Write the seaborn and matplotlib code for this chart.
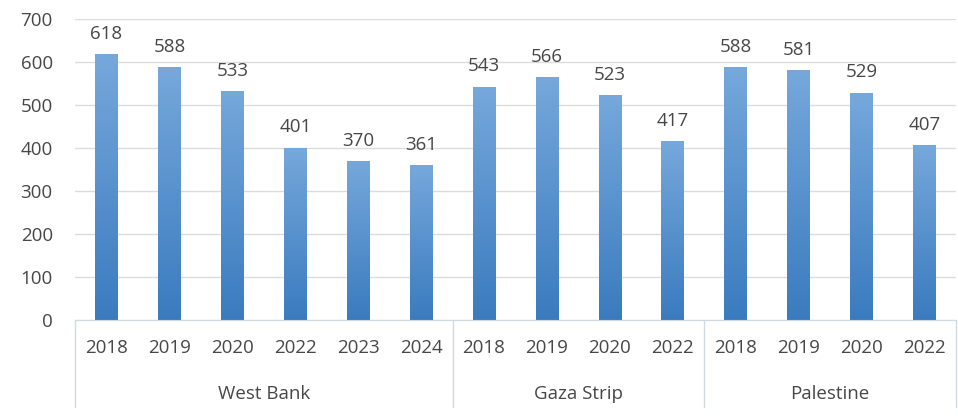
import numpy as np
import pandas as pd
import matplotlib
matplotlib.use("Agg")
import matplotlib.pyplot as plt
import matplotlib.transforms as mtransforms
import seaborn as sns

regions = ["West Bank", "Gaza Strip", "Palestine"]
years_west_bank = ["2018", "2019", "2020", "2022", "2023", "2024"]
values_west_bank = [618, 588, 533, 401, 370, 361]
years_gaza = ["2018", "2019", "2020", "2022"]
values_gaza = [543, 566, 523, 417]
years_palestine = ["2018", "2019", "2020", "2022"]
values_palestine = [588, 581, 529, 407]

rows = []
for region, years, values in zip(regions,
                                 [years_west_bank, years_gaza, years_palestine],
                                 [values_west_bank, values_gaza, values_palestine]):
    for y, v in zip(years, values):
        rows.append({"region": region, "year": y, "value": v, "key": f"{region} {y}"})
df = pd.DataFrame(rows)

sns.set_style("white")
plt.rcParams["font.family"] = ["Open Sans", "DejaVu Sans"]
text_color = "#474747"
fs = 13.5

fig = plt.figure(figsize=(9.58, 4.2), dpi=100)
ax = fig.add_axes([75 / 958, 1 - 320 / 420, (956 - 75) / 958, (320 - 19) / 420])

sns.barplot(data=df, x="key", y="value", color="#4a89cc", width=0.36, ax=ax,
            order=df["key"].tolist())

# gradient fill on each bar
grad = np.linspace(0, 1, 256).reshape(-1, 1)
cmap = matplotlib.colors.LinearSegmentedColormap.from_list("g", ["#3a7bbf", "#76a8db"])
for p in ax.patches:
    x0, w, h = p.get_x(), p.get_width(), p.get_height()
    im = ax.imshow(grad, extent=[x0, x0 + w, 0, h], origin="lower", cmap=cmap,
                   aspect="auto", zorder=p.get_zorder())
    im.set_clip_path(p)
    p.set_facecolor("none")
    p.set_edgecolor("none")
    ax.annotate(f"{int(h)}", (x0 + w / 2, h), xytext=(0, 8), textcoords="offset points",
                ha="center", va="bottom", fontsize=fs, color=text_color)

ax.set_xlim(-0.5, len(df) - 0.5)
ax.set_ylim(0, 700)
ax.set_yticks(range(0, 701, 100))
ax.yaxis.grid(True, color="#dcdcdc", linewidth=1)
ax.set_axisbelow(True)
ax.set_xticks(range(len(df)))
ax.set_xticklabels(df["year"], fontsize=fs, color=text_color)
ax.tick_params(axis="y", labelsize=fs, labelcolor=text_color, length=0, pad=16)
ax.tick_params(axis="x", length=0, pad=14)
ax.set_xlabel("")
ax.set_ylabel("")
sns.despine(ax=ax, left=True, top=True, right=True)
ax.spines["bottom"].set_color("#d0d8e4")

# group labels and separators
trans = mtransforms.blended_transform_factory(ax.transData, ax.transAxes)
counts = df.groupby("region", sort=False).size().tolist()
start = 0
bounds = [-0.5]
for region, n in zip(regions, counts):
    ax.text(start + (n - 1) / 2, -0.245, region, transform=trans, ha="center", va="center",
            fontsize=fs, color=text_color)
    start += n
    bounds.append(start - 0.5)
for b in bounds:
    ax.plot([b, b], [0, -0.29], transform=trans, color="#d0d8e4", linewidth=1, clip_on=False)

fig.savefig("out.png", dpi=100)
